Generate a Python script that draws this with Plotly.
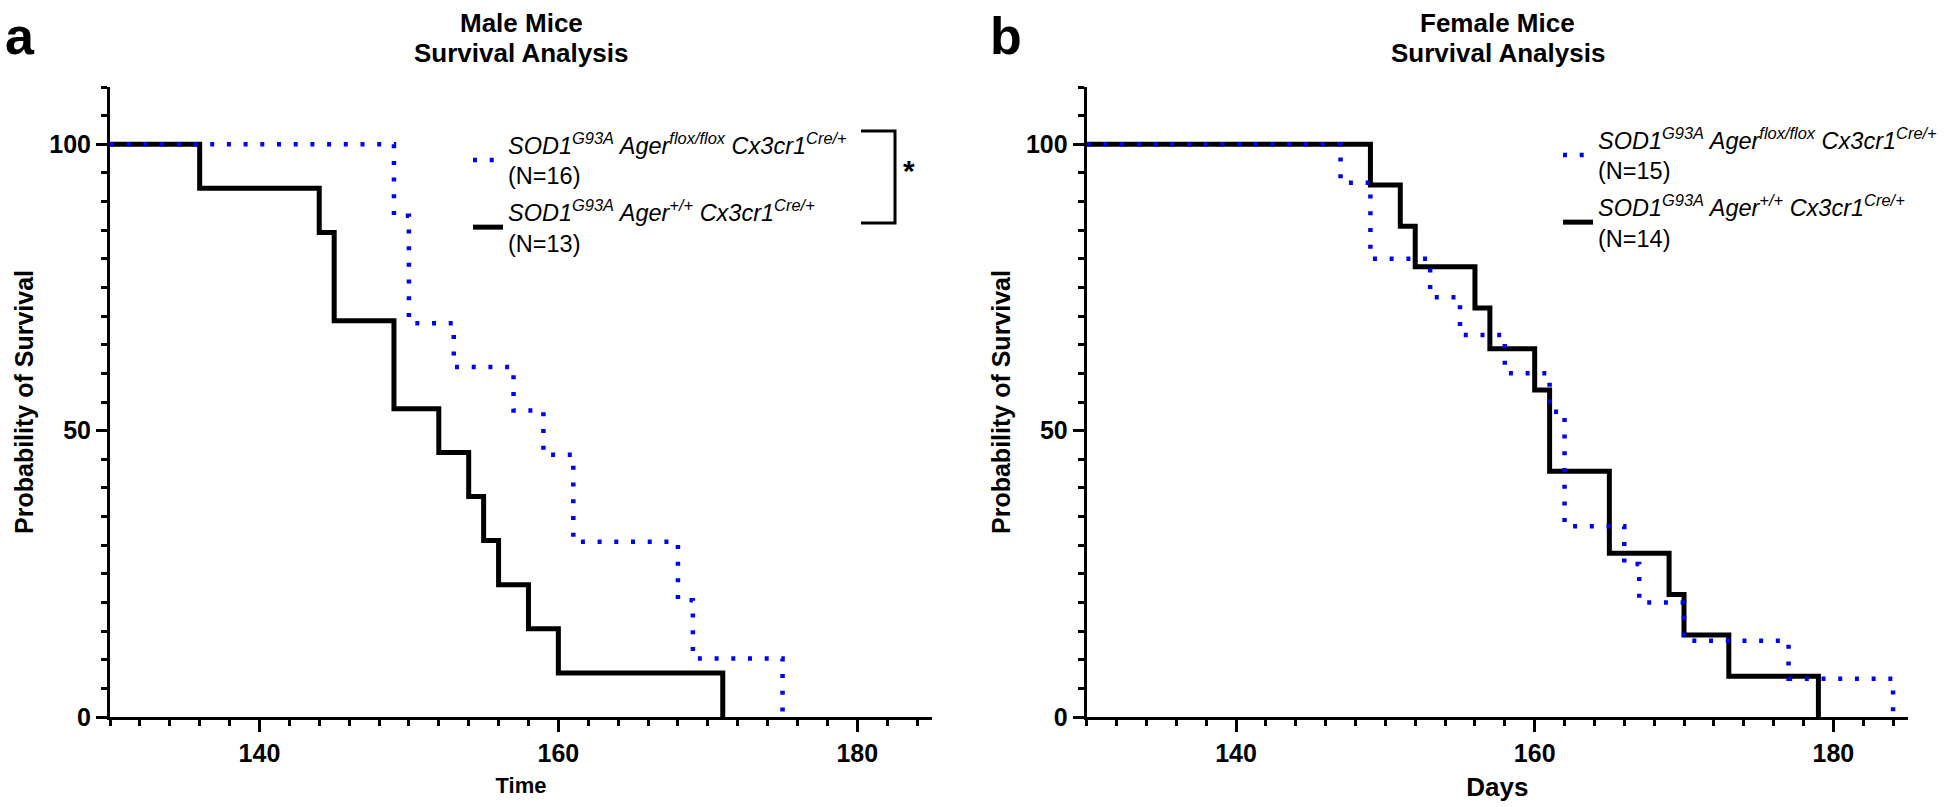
import plotly.graph_objects as go

# ---------------- data ----------------
male_flox_days = [130, 149, 150, 153, 157, 159, 161, 168, 169, 175]
male_flox_surv = [100, 87.5, 68.75, 61.1, 53.5, 45.8, 30.6, 20.4, 10.2, 0]
male_wt_days = [130, 136, 144, 145, 149, 152, 154, 155, 156, 158, 160, 171]
male_wt_surv = [100, 92.3, 84.6, 69.2, 53.8, 46.2, 38.5, 30.8, 23.1, 15.4, 7.7, 0]

female_flox_days = [130, 147, 149, 153, 155, 158, 161, 162, 166, 167, 170, 177, 184]
female_flox_surv = [100, 93.3, 80, 73.3, 66.7, 60, 53.3, 33.3, 26.7, 20, 13.3, 6.7, 0]
female_wt_days = [130, 149, 151, 152, 156, 157, 160, 161, 165, 169, 170, 173, 179]
female_wt_surv = [100, 92.9, 85.7, 78.6, 71.4, 64.3, 57.1, 42.9, 28.6, 21.4, 14.3, 7.1, 0]

name_flox_m = "<i>SOD1<sup>G93A</sup> Ager<sup>flox/flox</sup> Cx3cr1<sup>Cre/+</sup></i><br>(N=16)"
name_wt_m = "<i>SOD1<sup>G93A</sup> Ager<sup>+/+</sup> Cx3cr1<sup>Cre/+</sup></i><br>(N=13)"
name_flox_f = "<i>SOD1<sup>G93A</sup> Ager<sup>flox/flox</sup> Cx3cr1<sup>Cre/+</sup></i><br>(N=15)"
name_wt_f = "<i>SOD1<sup>G93A</sup> Ager<sup>+/+</sup> Cx3cr1<sup>Cre/+</sup></i><br>(N=14)"

x_range = [130, 185]
y_range = [0, 110]

# ---------------- figure geometry ----------------
W, H = 1946, 807
ML, MR, MT, MB = 110, 38, 87, 90
PW, PH = W - ML - MR, H - MT - MB


def px(xp):
    return (xp - ML) / PW


def py(yp):
    return (H - MB - yp) / PH


FONT = "Arial, Liberation Sans, sans-serif"
BLUE = "#0000FF"
DOT = "4px,12.7px"

fig = go.Figure()

# male panel
fig.add_trace(go.Scatter(x=male_wt_days, y=male_wt_surv, mode="lines", line_shape="hv",
                         line=dict(color="black", width=5), name=name_wt_m,
                         legend="legend", legendrank=2, legendgroup="m2",
                         xaxis="x", yaxis="y"))
fig.add_trace(go.Scatter(x=male_flox_days, y=male_flox_surv, mode="lines", line_shape="hv",
                         line=dict(color=BLUE, width=4.5, dash=DOT), name=name_flox_m,
                         legend="legend", legendrank=1, legendgroup="m1",
                         xaxis="x", yaxis="y"))
# female panel
fig.add_trace(go.Scatter(x=female_wt_days, y=female_wt_surv, mode="lines", line_shape="hv",
                         line=dict(color="black", width=5), name=name_wt_f,
                         legend="legend2", legendrank=2, legendgroup="f2",
                         xaxis="x2", yaxis="y2"))
fig.add_trace(go.Scatter(x=female_flox_days, y=female_flox_surv, mode="lines", line_shape="hv",
                         line=dict(color=BLUE, width=4.5, dash=DOT), name=name_flox_f,
                         legend="legend2", legendrank=1, legendgroup="f1",
                         xaxis="x2", yaxis="y2"))

tickfont = dict(family=FONT, size=25, color="black", weight="bold")


def xaxis_cfg(domain, title, tsize):
    return dict(domain=domain, range=x_range, showline=True, linewidth=3, linecolor="black",
                ticks="outside", ticklen=12, tickwidth=3, tickcolor="black",
                tick0=0, dtick=20, tickfont=tickfont, showgrid=False, zeroline=False,
                minor=dict(dtick=2, tick0=0, ticks="outside", ticklen=6, tickwidth=3,
                           tickcolor="black", showgrid=False),
                title=dict(text=title, font=dict(family=FONT, size=tsize, color="black",
                                                 weight="bold"), standoff=12),
                automargin=False, fixedrange=True)


def yaxis_cfg(anchor):
    return dict(domain=[0, 1], range=y_range, anchor=anchor, showline=True, linewidth=3,
                linecolor="black", ticks="outside", ticklen=11, tickwidth=3,
                tickcolor="black", tick0=0, dtick=50, tickfont=tickfont, showgrid=False,
                zeroline=False,
                minor=dict(dtick=5, tick0=0, ticks="outside", ticklen=6, tickwidth=3,
                           tickcolor="black", showgrid=False),
                title=dict(text="Probability of Survival",
                           font=dict(family=FONT, size=25, color="black", weight="bold"),
                           standoff=9),
                automargin=False, fixedrange=True)


legend_common = dict(xanchor="left", yanchor="top", bgcolor="rgba(0,0,0,0)",
                     font=dict(family=FONT, size=23.5, color="black"),
                     traceorder="grouped", tracegroupgap=3, valign="middle",
                     itemclick=False, itemdoubleclick=False)

fig.update_layout(
    width=W, height=H, margin=dict(l=ML, r=MR, t=MT, b=MB, autoexpand=False),
    paper_bgcolor="white", plot_bgcolor="white", template="none",
    font=dict(family=FONT, color="black"),
    xaxis=xaxis_cfg([0, px(932)], "Time", 22),
    yaxis=yaxis_cfg("x"),
    xaxis2=xaxis_cfg([px(1086.7), 1], "Days", 26),
    yaxis2=yaxis_cfg("x2"),
    legend=dict(x=px(468), y=py(123), **legend_common),
    legend2=dict(x=px(1558), y=py(118), **legend_common),
    showlegend=True,
)

# titles and panel letters
ann_font = dict(family=FONT, size=26, color="black", weight="bold")
titles = [
    (521, "Male Mice", "Survival Analysis"),
    (1497.5, "Female Mice", "Survival Analysis"),
]
for xc, l1, l2 in titles:
    fig.add_annotation(x=px(xc), y=py(23), xref="paper", yref="paper", text=l1,
                       showarrow=False, xanchor="center", yanchor="middle", font=ann_font)
    fig.add_annotation(x=px(xc), y=py(53), xref="paper", yref="paper", text=l2,
                       showarrow=False, xanchor="center", yanchor="middle", font=ann_font)

for xl, letter in [(3, "a"), (988, "b")]:
    fig.add_annotation(x=px(xl), y=py(36), xref="paper", yref="paper", text=letter,
                       showarrow=False, xanchor="left", yanchor="middle",
                       font=dict(family=FONT, size=52, color="black", weight="bold"))

# significance bracket (male panel)
bx0, bx1, by0, by1 = px(861), px(895), py(131), py(223)
fig.add_shape(type="path", xref="paper", yref="paper",
              path=f"M {bx0},{by0} L {bx1},{by0} L {bx1},{by1} L {bx0},{by1}",
              line=dict(color="black", width=3))
fig.add_annotation(x=px(909), y=py(170), xref="paper", yref="paper", text="*",
                   showarrow=False, xanchor="center", yanchor="middle",
                   font=dict(family=FONT, size=30, color="black", weight="bold"))

fig.write_html("out.html", config={"displayModeBar": False},
               post_script="document.body.style.margin='0';document.body.style.overflow='hidden';")
